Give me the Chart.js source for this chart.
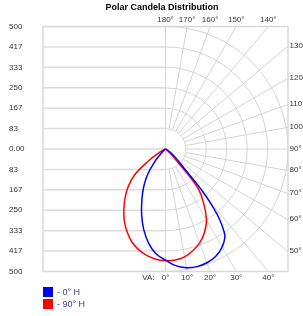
<!DOCTYPE html>
<html>
<head>
<meta charset="utf-8">
<title>Polar Candela Distribution</title>
<script src="https://cdn.jsdelivr.net/npm/chart.js@4.4.1/dist/chart.umd.min.js"></script>
<style>
    html, body { margin: 0; padding: 0; background: #fff; }
</style>
</head>
<body>
<canvas id="polarCandelaChart" width="303" height="316"></canvas>
<script>
// vertical angles (deg from nadir), same for every half plane
const verticalAngles = [0, 5, 10, 15, 20, 25, 30, 35, 40, 45, 50, 55, 60, 65, 70, 75, 80, 85, 90];
// candela values
const cd0H   = [453, 478, 492, 497, 494, 484, 462, 420, 280, 95, 50, 25, 10, 4, 1, 0, 0, 0, 0];
const cd180H = [453, 430, 392, 342, 285, 228, 178, 128, 70, 25, 8, 3, 0, 0, 0, 0, 0, 0, 0];
const cd90H  = [456, 455, 447, 430, 408, 376, 335, 272, 200, 45, 15, 5, 2, 0, 0, 0, 0, 0, 0];
const cd270H = [456, 452, 441, 425, 403, 372, 337, 296, 256, 214, 165, 85, 30, 6, 1, 0, 0, 0, 0];

const seriesLabels = ['0° H', '90° H'];
const seriesColors = ['#0000ff', '#ff0000'];

// y ticks, bottom to top
const yTickValues = [-500, -416.67, -333.33, -250, -166.67, -83.33, 0, 83.33, 166.67, 250, 333.33, 416.67, 500];
const yTickLabels = ['500', '417', '333', '250', '167', '83', '0.00', '83', '167', '250', '333', '417', '500'];

// polar grid
const ringValues = [83.33, 166.67, 250, 333.33, 416.67, 500];
const gridAngles = [0, 10, 20, 30, 40, 50, 60, 70, 80, 90, 100, 110, 120, 130, 140, 150, 160, 170, 180];
const topAngleLabels = [180, 170, 160, 150, 140];
const rightAngleLabels = [130, 120, 110, 100, 90, 80, 70, 60, 50];
const bottomAngleLabels = [0, 10, 20, 30, 40];

const fontFamily = "'Liberation Sans', Arial, sans-serif";

// turn one half plane into x/y points (side -1 = left, 1 = right)
function halfPlane(values, side) {
    return verticalAngles.map((a, i) => {
        const rad = a * Math.PI / 180;
        return { x: side * values[i] * Math.sin(rad), y: -values[i] * Math.cos(rad) };
    });
}

function curvePoints(leftValues, rightValues) {
    const left = halfPlane(leftValues, -1).reverse();
    const right = halfPlane(rightValues, 1).slice(1);
    return left.concat(right);
}

function strokeLine(ctx, x1, y1, x2, y2) {
    ctx.beginPath();
    ctx.moveTo(x1, y1);
    ctx.lineTo(x2, y2);
    ctx.stroke();
}

const polarGrid = {
    id: 'polarGrid',
    beforeDatasetsDraw(chart) {
        const { ctx, chartArea: area, scales: { x, y } } = chart;
        const cx = x.getPixelForValue(0);
        const cy = y.getPixelForValue(0);
        const pxPerCd = x.getPixelForValue(1) - cx;

        ctx.save();
        ctx.beginPath();
        ctx.rect(area.left, area.top, area.right - area.left, area.bottom - area.top);
        ctx.clip();

        // horizontal lines, left half only
        ctx.strokeStyle = '#dcdcdc';
        ctx.lineWidth = 1.5;
        yTickValues.forEach(v => {
            const py = y.getPixelForValue(v);
            strokeLine(ctx, area.left, py, cx, py);
        });

        // rings on the right half
        ctx.strokeStyle = '#d4d4d4';
        ctx.lineWidth = 1;
        ringValues.forEach(r => {
            ctx.beginPath();
            ctx.arc(cx, cy, r * pxPerCd, -Math.PI / 2, Math.PI / 2);
            ctx.stroke();
        });

        // radial lines
        const r0 = ringValues[0] * pxPerCd;
        const r1 = 1000 * pxPerCd;
        gridAngles.forEach(a => {
            const rad = a * Math.PI / 180;
            const s = Math.sin(rad), c = Math.cos(rad);
            strokeLine(ctx, cx + r0 * s, cy + r0 * c, cx + r1 * s, cy + r1 * c);
        });
        strokeLine(ctx, cx, area.top, cx, area.bottom);
        ctx.restore();

        // frame
        ctx.save();
        ctx.strokeStyle = '#d8d8d8';
        ctx.lineWidth = 1.5;
        ctx.strokeRect(area.left, area.top, area.right - area.left, area.bottom - area.top);
        ctx.restore();
    },
    afterDraw(chart) {
        const { ctx, chartArea: area, scales: { x, y } } = chart;
        const cx = x.getPixelForValue(0);
        const cy = y.getPixelForValue(0);

        ctx.save();
        // title
        ctx.fillStyle = '#000';
        ctx.font = 'bold 9px ' + fontFamily;
        ctx.textAlign = 'center';
        ctx.textBaseline = 'middle';
        ctx.fillText('Polar Candela Distribution', (area.left + area.right) / 2 - 3.5, 7.5);

        // angle labels
        ctx.fillStyle = '#333';
        ctx.font = '8px ' + fontFamily;
        topAngleLabels.forEach(a => {
            const rad = (180 - a) * Math.PI / 180;
            ctx.fillText(a + '°', cx + (cy - area.top) * Math.tan(rad), area.top - 7);
        });
        bottomAngleLabels.forEach(a => {
            const rad = a * Math.PI / 180;
            ctx.fillText(a + '°', cx + (area.bottom - cy) * Math.tan(rad), area.bottom + 6.5);
        });
        ctx.textAlign = 'right';
        ctx.fillText('VA:', cx - 11, area.bottom + 6.5);
        ctx.textAlign = 'left';
        rightAngleLabels.forEach(a => {
            const rad = a * Math.PI / 180;
            const py = cy + (area.right - cx) * Math.cos(rad) / Math.sin(rad);
            ctx.fillText(a + '°', area.right + 1.5, py - 0.5);
        });

        // legend
        ctx.font = '9px ' + fontFamily;
        chart.data.datasets.forEach((ds, i) => {
            const top = area.bottom + 15.5 + i * 12;
            ctx.fillStyle = ds.borderColor;
            ctx.fillRect(area.left, top, 10, 10);
            ctx.fillStyle = '#40409c';
            ctx.fillText('- ' + ds.label, area.left + 14, top + 5.5);
        });
        ctx.restore();
    }
};

new Chart(document.getElementById('polarCandelaChart'), {
    type: 'scatter',
    data: {
        datasets: [
            {
                label: seriesLabels[0],
                data: curvePoints(cd180H, cd0H),
                borderColor: seriesColors[0],
                borderWidth: 1.5,
                showLine: true,
                pointRadius: 0,
                tension: 0.4
            },
            {
                label: seriesLabels[1],
                data: curvePoints(cd270H, cd90H),
                borderColor: seriesColors[1],
                borderWidth: 1.5,
                showLine: true,
                pointRadius: 0,
                tension: 0.4
            }
        ]
    },
    options: {
        responsive: false,
        animation: false,
        layout: { padding: { left: 9, top: 26.5, right: 15, bottom: 44.5 } },
        plugins: {
            legend: { display: false },
            title: { display: false },
            tooltip: { enabled: false }
        },
        scales: {
            x: { type: 'linear', min: -500, max: 500, display: false },
            y: {
                type: 'linear',
                min: -500,
                max: 500,
                afterBuildTicks: scale => {
                    scale.ticks = yTickValues.map(v => ({ value: v }));
                },
                afterFit: scale => {
                    scale.width = 34;
                },
                grid: { display: false },
                border: { display: false },
                ticks: {
                    autoSkip: false,
                    crossAlign: 'far',
                    color: '#333',
                    font: { family: fontFamily, size: 8 },
                    callback: (value, index) => yTickLabels[index]
                }
            }
        }
    },
    plugins: [polarGrid]
});
</script>
</body>
</html>
